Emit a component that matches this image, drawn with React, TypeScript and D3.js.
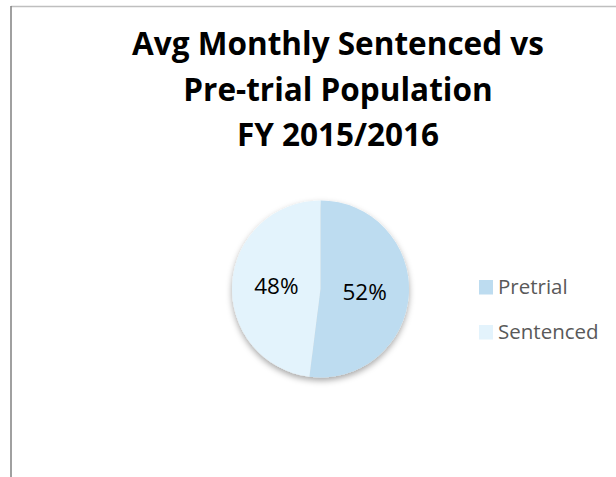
import * as d3 from "d3";
import { useMemo } from "react";

/* Data ------------------------------------------------------------- */

const CATEGORIES = ["Pretrial", "Sentenced"];
const SHARES = [52, 48];
const TITLE_LINES = ["Avg Monthly Sentenced vs", "Pre-trial Population", "FY 2015/2016"];

/* Theme ------------------------------------------------------------ */

const W = 616;
const H = 477;
const FONT = "'Open Sans', Lato, sans-serif";
const COLORS = ["#bddcf0", "#e3f3fc"];
const LEGEND_TEXT = "#595959";

export default function App() {
  const cx = 320.5;
  const cy = 289;
  const r = 88.5;

  const arcs = useMemo(() => {
    const pie = d3
      .pie<number>()
      .sort(null)
      .value((d) => d);
    return pie(SHARES);
  }, []);

  const arc = d3.arc<d3.PieArcDatum<number>>().innerRadius(0).outerRadius(r);
  const labelArc = d3
    .arc<d3.PieArcDatum<number>>()
    .innerRadius(r * 0.5)
    .outerRadius(r * 0.5);

  const color = d3.scaleOrdinal<string, string>().domain(CATEGORIES).range(COLORS);
  // legend rows (baseline of text)
  const legendY = d3.scalePoint<string>().domain(CATEGORIES).range([293.5, 338.5]);

  return (
    <svg
      width={W}
      height={H}
      style={{ position: "absolute", left: 0, top: 0, background: "#fff" }}
    >
      <defs>
        <filter id="pieShadow" x="-20%" y="-20%" width="140%" height="150%">
          <feDropShadow dx="0" dy="3" stdDeviation="3" floodColor="#000" floodOpacity="0.35" />
        </filter>
      </defs>

      {/* Frame */}
      <line x1={11} x2={W} y1={6.5} y2={6.5} stroke="#bfbfbf" strokeWidth={1.5} />
      <line x1={11} x2={11} y1={6} y2={H} stroke="#808080" strokeWidth={1.5} />

      {/* Title */}
      <g fontFamily={FONT} fontWeight={700} fontSize={31.5} fill="#000" textAnchor="middle">
        {TITLE_LINES.map((t, i) => (
          <text key={t} x={338} y={55 + i * 45.5}>
            {t}
          </text>
        ))}
      </g>

      {/* Pie */}
      <g transform={`translate(${cx},${cy})`}>
        <g filter="url(#pieShadow)">
          {arcs.map((a, i) => (
            <path key={CATEGORIES[i]} d={arc(a) ?? ""} fill={color(CATEGORIES[i])} />
          ))}
        </g>
        {arcs.map((a, i) => {
          const [lx, ly] = labelArc.centroid(a);
          return (
            <text
              key={`l-${CATEGORIES[i]}`}
              x={lx}
              y={ly}
              dy="0.36em"
              textAnchor="middle"
              fontFamily={FONT}
              fontSize={22.5}
              fill="#000"
            >
              {`${SHARES[i]}%`}
            </text>
          );
        })}
      </g>

      {/* Legend */}
      <g fontFamily={FONT} fontSize={20.5} fill={LEGEND_TEXT}>
        {CATEGORIES.map((c) => (
          <g key={c} transform={`translate(479,${legendY(c)})`}>
            <rect x={0} y={-13.5} width={14} height={14.5} fill={color(c)} />
            <text x={19} y={0}>
              {c}
            </text>
          </g>
        ))}
      </g>
    </svg>
  );
}
